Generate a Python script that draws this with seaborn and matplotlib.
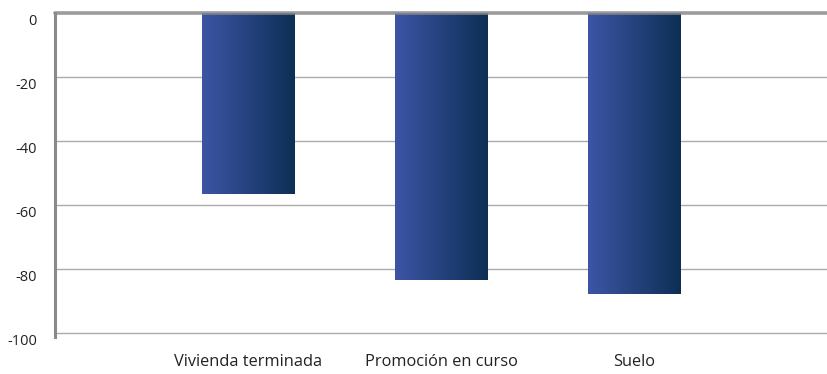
import numpy as np
import pandas as pd
import matplotlib
matplotlib.use("Agg")
import matplotlib.pyplot as plt
import matplotlib.transforms as mtransforms
import seaborn as sns
from matplotlib.colors import LinearSegmentedColormap

categories = ["Vivienda terminada", "Promoción en curso", "Suelo"]
values = [-56.5, -83.3, -87.6]
yticks = [0, -20, -40, -60, -80, -100]

sns.set_theme(style="white")
plt.rcParams['font.family'] = ['Open Sans', 'DejaVu Sans']

fig = plt.figure(figsize=(8.27, 3.74), dpi=100)
ax = fig.add_axes([55/827, 1 - 333.3/374, (827-55)/827, (333.3-13.3)/374])

order = [""] + categories + [" "]
df_full = pd.DataFrame({"cat": order, "val": [0] + values + [0]})
sns.barplot(data=df_full, x="cat", y="val", order=order, ax=ax, width=0.477,
            color="#2a4580", saturation=1, errorbar=None)

cmap = LinearSegmentedColormap.from_list("g", ["#3d55a5", "#0d2f55"])
grad = np.linspace(0, 1, 256).reshape(1, -1)
for p in list(ax.patches):
    h = p.get_height()
    if h == 0:
        p.remove()
        continue
    x0, y0 = p.get_x(), p.get_y()
    w = p.get_width()
    im = ax.imshow(grad, cmap=cmap, aspect="auto",
                   extent=[x0, x0 + w, y0 + h, y0], zorder=2)
    im.set_clip_path(p)
    p.set_facecolor("none")
    p.set_edgecolor("none")

ax.set_xlim(0, 4)
ax.set_ylim(-100, 0)
ax.set_yticks(yticks)
ax.set_yticklabels([str(t) for t in yticks], fontsize=10.5, color="#222222")
ax.set_xticks([1, 2, 3])
ax.set_xticklabels(categories, fontsize=11.8, color="#222222")
ax.tick_params(axis="y", length=0, pad=13)
ax.tick_params(axis="x", length=0, pad=15)
ax.set_xlabel("")
ax.set_ylabel("")

offset = mtransforms.ScaledTranslation(0, -6/100, fig.dpi_scale_trans)
for lbl in ax.get_yticklabels():
    lbl.set_transform(lbl.get_transform() + offset)

for t in [-20, -40, -60, -80, -100]:
    ax.axhline(t, color="#ababab", lw=1.0, zorder=1, clip_on=False)
ax.axhline(0, color="#8a8a8a", lw=2.6, alpha=0.85, zorder=5, clip_on=False)

for s in ["top", "right", "bottom"]:
    ax.spines[s].set_visible(False)
ax.spines["left"].set_color("#8a8a8a")
ax.spines["left"].set_linewidth(2.2)
ax.spines["left"].set_bounds(-101.2, 0)

fig.savefig("out.png", dpi=100)
